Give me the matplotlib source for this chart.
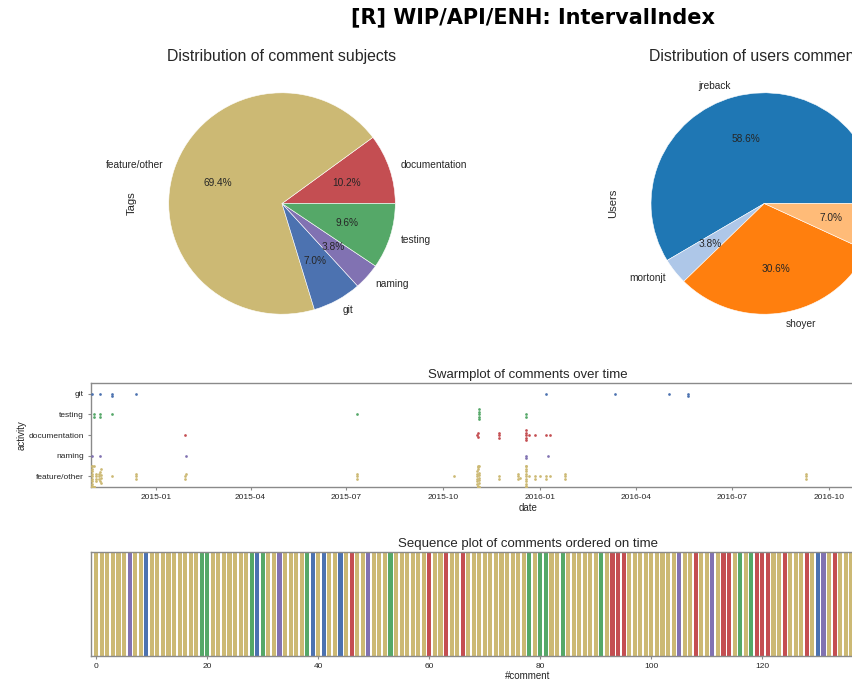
import numpy as np
import pandas as pd
import matplotlib
matplotlib.use("Agg")
import matplotlib.pyplot as plt
import matplotlib.dates as mdates
from matplotlib.ticker import MultipleLocator

plt.rcParams['font.family'] = ['Liberation Sans', 'DejaVu Sans']

# ---------------- data ----------------
fig_title = "[R] WIP/API/ENH: IntervalIndex"

# comments in time order: per day, the sequence of tags (code + count)
day_dates = ['2014-11-02', '2014-11-03', '2014-11-05', '2014-11-08', '2014-11-09',
             '2014-11-10', '2014-11-21', '2014-12-13', '2015-01-29', '2015-01-30',
             '2015-07-11', '2015-10-11', '2015-11-02', '2015-11-03', '2015-11-04',
             '2015-11-23', '2015-12-11', '2015-12-13', '2015-12-18', '2015-12-21',
             '2015-12-27', '2016-01-01', '2016-01-06', '2016-01-08', '2016-01-10',
             '2016-01-24', '2016-03-12', '2016-05-02', '2016-05-20', '2016-09-09',
             '2017-01-18', '2017-02-05']
day_runs = ['F6 N1 F2 G1 F4', 'F5 T2', 'F4', 'F3', 'T1 G1 T1 F2 N1',
            'F4', 'T1 G1 F1 G1', 'F2 G1 F1', 'D1 F2', 'N1 F1',
            'F2 T1 F1', 'F1', 'F4 D1 F2', 'D1 F2 D1 F11', 'T1 F1 T2 F2 T1 F6 T1',
            'F1 D3 F1', 'F3', 'F1', 'F4 N1 F2 D1 F2 N1 F1 D2 F1 T1 F1 T1 D2', 'D1 F1',
            'F1 D1 F1', 'F1', 'F1 D1 F1 G1', 'N1', 'F1 D1',
            'F3', 'G1', 'G1', 'G2', 'F3',
            'F3 T1 F2 G1', 'F3 T1 F2']
tag_codes = {'D': 'documentation', 'F': 'feature/other', 'G': 'git',
             'N': 'naming', 'T': 'testing'}

tag_order = ['documentation', 'feature/other', 'git', 'naming', 'testing']
swarm_order = ['git', 'testing', 'documentation', 'naming', 'feature/other']
tag_colors = {'documentation': '#C44E52', 'feature/other': '#CCB974',
              'git': '#4C72B0', 'naming': '#8172B2', 'testing': '#55A868'}

user_names = ['jreback', 'mortonjt', 'shoyer', 'sinhrks']
user_counts = [92, 6, 48, 11]
user_colors = ['#1f77b4', '#aec7e8', '#ff7f0e', '#ffbb78']

# ---------------- expand ----------------
dates, tags = [], []
for d, runs in zip(day_dates, day_runs):
    for tok in runs.split():
        n = int(tok[1:])
        dates += [pd.Timestamp(d)] * n
        tags += [tag_codes[tok[0]]] * n
dates = pd.DatetimeIndex(dates)
tags = np.array(tags)
n_comments = len(tags)
tag_counts = [int((tags == t).sum()) for t in tag_order]

# ---------------- figure ----------------
W, H, DPI = 853, 683, 100
fig = plt.figure(figsize=(W / DPI, H / DPI), dpi=DPI)
fig.patch.set_facecolor('white')
TXT = '#262626'
SP = '#8a8a8a'


def add_ax(l, t, r, b):
    return fig.add_axes([l / W, 1 - b / H, (r - l) / W, (b - t) / H])


def ftext(x, y, s, **kw):
    return fig.text(x / W, 1 - y / H, s, **kw)


ftext(533, 17, fig_title, fontsize=15, fontweight='bold',
      family='DejaVu Sans', ha='center', va='center', color='black')

# ---- pies ----
RX, RY, CY = 113.3, 110.7, 203.5
for cx, vals, labels, cols, title, ylab, ylx in [
        (282.0, tag_counts, tag_order, [tag_colors[t] for t in tag_order],
         'Distribution of comment subjects', 'Tags', 131.7),
        (764.3, user_counts, user_names, user_colors,
         'Distribution of users commenting', 'Users', 613.3)]:
    ax = add_ax(cx - 1.25 * RX, CY - 1.25 * RY, cx + 1.25 * RX, CY + 1.25 * RY)
    ax.pie(vals, labels=labels, colors=cols, autopct='%.1f%%', startangle=0,
           textprops=dict(fontsize=7.3, color=TXT),
           wedgeprops=dict(edgecolor='white', linewidth=0.4))
    ax.set_aspect('auto')
    ax.set_xlim(-1.25, 1.25)
    ax.set_ylim(-1.25, 1.25)
    ax.axis('off')
    ftext(cx, 56.7, title, fontsize=11.4, ha='center', va='center', color=TXT)
    ftext(ylx, CY, ylab, fontsize=8.1, rotation=90, ha='center', va='center', color=TXT)

# ---- swarm ----
SL, ST, SR, SB = 90.7, 383.3, 965.0, 486.7
ax2 = add_ax(SL, ST, SR, SB)
ref = mdates.date2num(pd.Timestamp('2015-01-01'))
x0, x1 = ref - 61.66, ref + 767.8
px_day = (SR - SL) / (x1 - x0)
px_cat = (SB - ST) / 5.0
xnum = mdates.date2num(dates)
diam, step, limit = 2.4, 0.25, 10.5
for ci, cat in enumerate(swarm_order):
    sel = np.where(tags == cat)[0]
    xs = xnum[sel]
    xp = xs * px_day
    order = np.argsort(xp, kind='stable')
    px_l, py_l = [], []
    offs = np.zeros(len(xs))
    for i in order:
        xv = xp[i]
        chosen = 0.0
        for k in range(400):
            m = (k + 1) // 2
            y = (1 if k % 2 == 1 else -1) * m * step
            ok = True
            for a, b in zip(px_l, py_l):
                if (xv - a) ** 2 + (y - b) ** 2 < diam ** 2:
                    ok = False
                    break
            if ok:
                chosen = y
                break
        chosen = float(np.clip(chosen, -limit, limit))
        px_l.append(xv)
        py_l.append(chosen)
        offs[i] = chosen
    ax2.scatter(xs, ci + offs / px_cat, s=3.8, color=tag_colors[cat],
                linewidths=0, zorder=3)
ax2.set_xlim(x0, x1)
ax2.set_ylim(4.5, -0.5)
ax2.set_yticks(range(5))
ax2.set_yticklabels(swarm_order)
ax2.xaxis.set_major_locator(mdates.MonthLocator(bymonth=[1, 4, 7, 10]))
ax2.xaxis.set_major_formatter(mdates.DateFormatter('%Y-%m'))
ax2.set_xlabel('date', fontsize=7, color=TXT, labelpad=1.5)
ax2.set_ylabel('activity', fontsize=7, color=TXT, labelpad=1.3)
ftext((SL + SR) / 2, 375, 'Swarmplot of comments over time', fontsize=9.5,
      ha='center', va='center', color=TXT)

# ---- sequence ----
QL, QT, QR, QB = 90.7, 552.0, 965.0, 656.0
ax3 = add_ax(QL, QT, QR, QB)
ax3.bar(np.arange(n_comments), 1.0, width=0.74,
        color=[tag_colors[t] for t in tags], linewidth=0, align='center')
ax3.set_xlim(-1.01, 156.5)
ax3.set_ylim(0, 1)
ax3.set_yticks([])
ax3.xaxis.set_major_locator(MultipleLocator(20))
ax3.set_xlabel('#comment', fontsize=7, color=TXT, labelpad=1.0)
ftext((QL + QR) / 2, 544, 'Sequence plot of comments ordered on time', fontsize=9.5,
      ha='center', va='center', color=TXT)

for ax in (ax2, ax3):
    ax.set_facecolor('white')
    for s in ax.spines.values():
        s.set_color(SP)
        s.set_linewidth(1.0)
    ax.tick_params(axis='both', length=2.5, width=0.8, color=SP, pad=2.5,
                   labelsize=6, labelcolor=TXT)

fig.savefig('out.png', dpi=DPI)
